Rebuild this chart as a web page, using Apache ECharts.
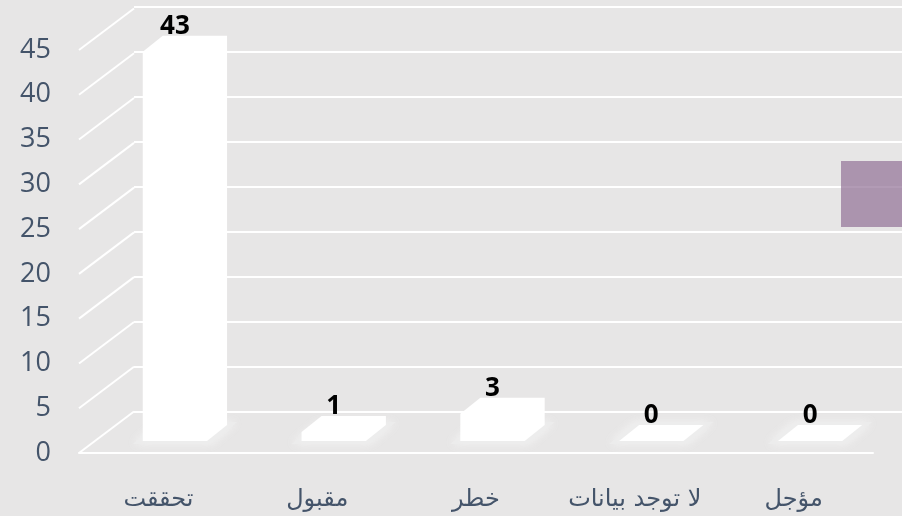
<!DOCTYPE html>
<html><head><meta charset="utf-8">
<script src="https://cdn.jsdelivr.net/npm/echarts@6/dist/echarts.min.js"></script>
<style>html,body{margin:0;padding:0;background:#E7E6E6}#c{width:902px;height:516px}</style>
</head><body><div id="c"></div>
<script>
const categories = ['تحققت', 'مقبول', 'خطر', 'لا توجد بيانات', 'مؤجل'];
const values = [43, 1, 3, 0, 0];
const yTicks = [0, 5, 10, 15, 20, 25, 30, 35, 40, 45];
const yMin = 0, yMax = 45, yStep = 5;

const WALL_DEPTH = [55, -41.5];
const BAR_DEPTH = [20, -16];
const TEXT = '#44546A';

const chart = echarts.init(document.getElementById('c'), null, {renderer: 'canvas'});

const yBase = {min: yMin, max: yMax, interval: yStep};

const option = {
  backgroundColor: '#E7E6E6',
  animation: false,
  grid: [
    {left: 79, right: 29, top: 50, bottom: 63},
    {left: 134, right: 0, top: 7, bottom: 104},
    {left: 95.5, right: 12.5, top: 33.75, bottom: 75}
  ],
  xAxis: [
    {gridIndex: 0, type: 'category', data: categories,
     axisLine: {lineStyle: {color: '#ffffff', width: 2}}, axisTick: {show: false},
     axisLabel: {interval: 0, hideOverlap: false, color: TEXT, fontSize: 24, fontFamily: 'DejaVu Sans', margin: 35}},
    {gridIndex: 1, type: 'category', data: categories, show: false},
    {gridIndex: 2, type: 'category', data: categories, show: false}
  ],
  yAxis: [
    Object.assign({gridIndex: 0, type: 'value', axisLine: {show: false}, axisTick: {show: false},
      splitLine: {show: false},
      axisLabel: {color: TEXT, fontSize: 27, fontFamily: 'Open Sans', margin: 28}}, yBase),
    Object.assign({gridIndex: 1, type: 'value', axisLine: {show: false}, axisTick: {show: false},
      axisLabel: {show: false},
      splitLine: {lineStyle: {color: '#ffffff', width: 2}}}, yBase),
    Object.assign({gridIndex: 2, type: 'value', show: false, splitLine: {show: false}}, yBase)
  ],
  graphic: [
    {type: 'rect', shape: {x: 841, y: 161, width: 61, height: 66},
     style: {fill: 'rgba(148,117,153,0.72)'}, z: 100}
  ],
  series: [
    {
      type: 'custom', xAxisIndex: 0, yAxisIndex: 0, silent: true, z: 1,
      data: yTicks.map(v => [0, v]),
      renderItem: function (params, api) {
        const v = api.value(1);
        const y = api.coord([0, v])[1];
        const x = params.coordSys.x;
        return {type: 'line', shape: {x1: x, y1: y, x2: x + WALL_DEPTH[0], y2: y + WALL_DEPTH[1]},
                style: {stroke: '#ffffff', lineWidth: 2}};
      }
    },
    {
      type: 'custom', xAxisIndex: 2, yAxisIndex: 2, silent: true, z: 5,
      data: values.map((v, i) => [i, v]),
      renderItem: function (params, api) {
        const i = api.value(0), v = api.value(1);
        const base = api.coord([i, 0]);
        const top = api.coord([i, v]);
        const bw = api.size([1, 0])[0] * 0.405;
        const x0 = base[0] - bw / 2, x1 = base[0] + bw / 2;
        const dx = BAR_DEPTH[0], dy = BAR_DEPTH[1];
        const yb = base[1], yt = top[1];
        const children = [];
        children.push({type: 'polygon', shape: {points: [[x0 - 10, yb + 3], [x1 + 4, yb + 3], [x1 + dx + 10, yb + dy - 3], [x0 + dx - 4, yb + dy - 3]]},
          style: {fill: 'rgba(236,236,236,0.9)', shadowBlur: 10, shadowColor: 'rgba(245,245,245,1)'}});
        children.push({type: 'polygon', shape: {points: [
            [x0, yb], [x1, yb], [x1 + dx, yb + dy], [x1 + dx, yt + dy], [x0 + dx, yt + dy], [x0, yt]]},
          style: {fill: '#ffffff'}});
        children.push({type: 'text', x: base[0], y: yt + dy - 9,
          style: {text: String(v), fill: '#000000', font: 'bold 26px "Open Sans"', align: 'center', verticalAlign: 'middle'}});
        return {type: 'group', children: children};
      }
    }
  ]
};
chart.setOption(option);
</script>
</body></html>
